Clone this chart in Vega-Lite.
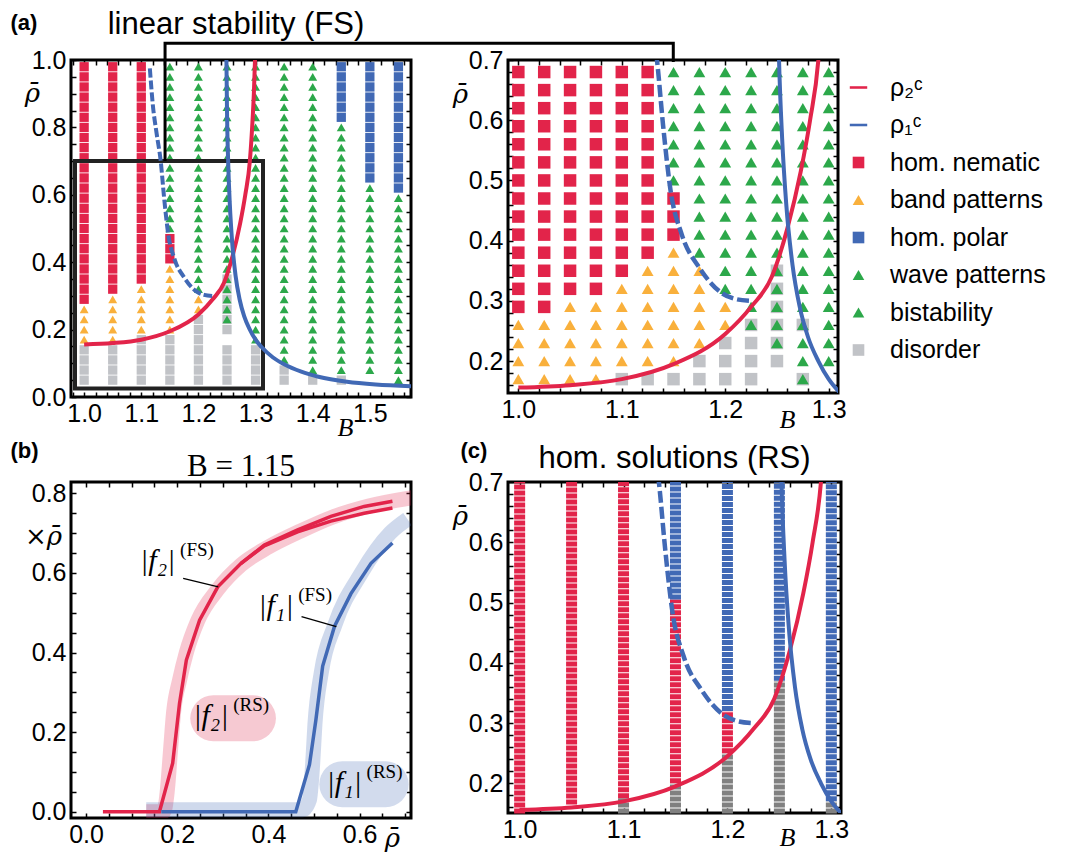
{
"$schema":"https://vega.github.io/schema/vega-lite/v6.json",
"background":"white",
"padding":{"left":8,"top":7,"right":0,"bottom":0},
"bounds":"flush",
"spacing":422,
"resolve":{"scale":{"color":"independent","shape":"independent"},"legend":{"color":"independent","shape":"independent"}},
"datasets":{
"gridA":[
{"b":1,"r":0.05,"s":"D"},{"b":1,"r":0.08,"s":"D"},{"b":1,"r":0.11,"s":"D"},{"b":1,"r":0.14,"s":"D"},{"b":1,"r":0.17,"s":"O"},{"b":1,"r":0.2,"s":"O"},{"b":1,"r":0.23,"s":"O"},{"b":1,"r":0.26,"s":"O"},{"b":1,"r":0.29,"s":"N"},{"b":1,"r":0.32,"s":"N"},{"b":1,"r":0.35,"s":"N"},{"b":1,"r":0.38,"s":"N"},{"b":1,"r":0.41,"s":"N"},{"b":1,"r":0.44,"s":"N"},{"b":1,"r":0.47,"s":"N"},{"b":1,"r":0.5,"s":"N"},{"b":1,"r":0.53,"s":"N"},{"b":1,"r":0.56,"s":"N"},{"b":1,"r":0.59,"s":"N"},{"b":1,"r":0.62,"s":"N"},{"b":1,"r":0.65,"s":"N"},{"b":1,"r":0.68,"s":"N"},{"b":1,"r":0.71,"s":"N"},{"b":1,"r":0.74,"s":"N"},{"b":1,"r":0.77,"s":"N"},{"b":1,"r":0.8,"s":"N"},{"b":1,"r":0.83,"s":"N"},{"b":1,"r":0.86,"s":"N"},{"b":1,"r":0.89,"s":"N"},{"b":1,"r":0.92,"s":"N"},{"b":1,"r":0.95,"s":"N"},{"b":1,"r":0.98,"s":"N"},
{"b":1.05,"r":0.05,"s":"D"},{"b":1.05,"r":0.08,"s":"D"},{"b":1.05,"r":0.11,"s":"D"},{"b":1.05,"r":0.14,"s":"D"},{"b":1.05,"r":0.17,"s":"O"},{"b":1.05,"r":0.2,"s":"O"},{"b":1.05,"r":0.23,"s":"O"},{"b":1.05,"r":0.26,"s":"O"},{"b":1.05,"r":0.29,"s":"O"},{"b":1.05,"r":0.32,"s":"N"},{"b":1.05,"r":0.35,"s":"N"},{"b":1.05,"r":0.38,"s":"N"},{"b":1.05,"r":0.41,"s":"N"},{"b":1.05,"r":0.44,"s":"N"},{"b":1.05,"r":0.47,"s":"N"},{"b":1.05,"r":0.5,"s":"N"},{"b":1.05,"r":0.53,"s":"N"},{"b":1.05,"r":0.56,"s":"N"},{"b":1.05,"r":0.59,"s":"N"},{"b":1.05,"r":0.62,"s":"N"},{"b":1.05,"r":0.65,"s":"N"},{"b":1.05,"r":0.68,"s":"N"},{"b":1.05,"r":0.71,"s":"N"},{"b":1.05,"r":0.74,"s":"N"},{"b":1.05,"r":0.77,"s":"N"},{"b":1.05,"r":0.8,"s":"N"},{"b":1.05,"r":0.83,"s":"N"},{"b":1.05,"r":0.86,"s":"N"},{"b":1.05,"r":0.89,"s":"N"},{"b":1.05,"r":0.92,"s":"N"},{"b":1.05,"r":0.95,"s":"N"},{"b":1.05,"r":0.98,"s":"N"},
{"b":1.1,"r":0.05,"s":"D"},{"b":1.1,"r":0.08,"s":"D"},{"b":1.1,"r":0.11,"s":"D"},{"b":1.1,"r":0.14,"s":"D"},{"b":1.1,"r":0.17,"s":"D"},{"b":1.1,"r":0.2,"s":"O"},{"b":1.1,"r":0.23,"s":"O"},{"b":1.1,"r":0.26,"s":"O"},{"b":1.1,"r":0.29,"s":"O"},{"b":1.1,"r":0.32,"s":"O"},{"b":1.1,"r":0.35,"s":"N"},{"b":1.1,"r":0.38,"s":"N"},{"b":1.1,"r":0.41,"s":"N"},{"b":1.1,"r":0.44,"s":"N"},{"b":1.1,"r":0.47,"s":"N"},{"b":1.1,"r":0.5,"s":"N"},{"b":1.1,"r":0.53,"s":"N"},{"b":1.1,"r":0.56,"s":"N"},{"b":1.1,"r":0.59,"s":"N"},{"b":1.1,"r":0.62,"s":"N"},{"b":1.1,"r":0.65,"s":"N"},{"b":1.1,"r":0.68,"s":"N"},{"b":1.1,"r":0.71,"s":"N"},{"b":1.1,"r":0.74,"s":"N"},{"b":1.1,"r":0.77,"s":"N"},{"b":1.1,"r":0.8,"s":"N"},{"b":1.1,"r":0.83,"s":"N"},{"b":1.1,"r":0.86,"s":"N"},{"b":1.1,"r":0.89,"s":"N"},{"b":1.1,"r":0.92,"s":"N"},{"b":1.1,"r":0.95,"s":"N"},{"b":1.1,"r":0.98,"s":"N"},
{"b":1.15,"r":0.05,"s":"D"},{"b":1.15,"r":0.08,"s":"D"},{"b":1.15,"r":0.11,"s":"D"},{"b":1.15,"r":0.14,"s":"D"},{"b":1.15,"r":0.17,"s":"D"},{"b":1.15,"r":0.2,"s":"O"},{"b":1.15,"r":0.23,"s":"O"},{"b":1.15,"r":0.26,"s":"O"},{"b":1.15,"r":0.29,"s":"O"},{"b":1.15,"r":0.32,"s":"O"},{"b":1.15,"r":0.35,"s":"O"},{"b":1.15,"r":0.38,"s":"O"},{"b":1.15,"r":0.41,"s":"N"},{"b":1.15,"r":0.44,"s":"N"},{"b":1.15,"r":0.47,"s":"N"},{"b":1.15,"r":0.5,"s":"W"},{"b":1.15,"r":0.53,"s":"W"},{"b":1.15,"r":0.56,"s":"W"},{"b":1.15,"r":0.59,"s":"W"},{"b":1.15,"r":0.62,"s":"W"},{"b":1.15,"r":0.65,"s":"W"},{"b":1.15,"r":0.68,"s":"W"},{"b":1.15,"r":0.71,"s":"W"},{"b":1.15,"r":0.74,"s":"W"},{"b":1.15,"r":0.77,"s":"W"},{"b":1.15,"r":0.8,"s":"W"},{"b":1.15,"r":0.83,"s":"W"},{"b":1.15,"r":0.86,"s":"W"},{"b":1.15,"r":0.89,"s":"W"},{"b":1.15,"r":0.92,"s":"W"},{"b":1.15,"r":0.95,"s":"W"},{"b":1.15,"r":0.98,"s":"W"},
{"b":1.2,"r":0.05,"s":"D"},{"b":1.2,"r":0.08,"s":"D"},{"b":1.2,"r":0.11,"s":"D"},{"b":1.2,"r":0.14,"s":"D"},{"b":1.2,"r":0.17,"s":"D"},{"b":1.2,"r":0.2,"s":"D"},{"b":1.2,"r":0.23,"s":"D"},{"b":1.2,"r":0.26,"s":"O"},{"b":1.2,"r":0.29,"s":"O"},{"b":1.2,"r":0.32,"s":"W"},{"b":1.2,"r":0.35,"s":"W"},{"b":1.2,"r":0.38,"s":"W"},{"b":1.2,"r":0.41,"s":"W"},{"b":1.2,"r":0.44,"s":"W"},{"b":1.2,"r":0.47,"s":"W"},{"b":1.2,"r":0.5,"s":"W"},{"b":1.2,"r":0.53,"s":"W"},{"b":1.2,"r":0.56,"s":"W"},{"b":1.2,"r":0.59,"s":"W"},{"b":1.2,"r":0.62,"s":"W"},{"b":1.2,"r":0.65,"s":"W"},{"b":1.2,"r":0.68,"s":"W"},{"b":1.2,"r":0.71,"s":"W"},{"b":1.2,"r":0.74,"s":"W"},{"b":1.2,"r":0.77,"s":"W"},{"b":1.2,"r":0.8,"s":"W"},{"b":1.2,"r":0.83,"s":"W"},{"b":1.2,"r":0.86,"s":"W"},{"b":1.2,"r":0.89,"s":"W"},{"b":1.2,"r":0.92,"s":"W"},{"b":1.2,"r":0.95,"s":"W"},{"b":1.2,"r":0.98,"s":"W"},
{"b":1.25,"r":0.05,"s":"D"},{"b":1.25,"r":0.08,"s":"D"},{"b":1.25,"r":0.11,"s":"D"},{"b":1.25,"r":0.14,"s":"D"},{"b":1.25,"r":0.2,"s":"D"},{"b":1.25,"r":0.23,"s":"X"},{"b":1.25,"r":0.26,"s":"X"},{"b":1.25,"r":0.29,"s":"X"},{"b":1.25,"r":0.32,"s":"X"},{"b":1.25,"r":0.35,"s":"X"},{"b":1.25,"r":0.38,"s":"W"},{"b":1.25,"r":0.41,"s":"W"},{"b":1.25,"r":0.44,"s":"W"},{"b":1.25,"r":0.47,"s":"W"},{"b":1.25,"r":0.5,"s":"W"},{"b":1.25,"r":0.53,"s":"W"},{"b":1.25,"r":0.56,"s":"W"},{"b":1.25,"r":0.59,"s":"W"},{"b":1.25,"r":0.62,"s":"W"},{"b":1.25,"r":0.65,"s":"W"},{"b":1.25,"r":0.68,"s":"W"},{"b":1.25,"r":0.71,"s":"W"},{"b":1.25,"r":0.74,"s":"W"},{"b":1.25,"r":0.77,"s":"W"},{"b":1.25,"r":0.8,"s":"W"},{"b":1.25,"r":0.83,"s":"W"},{"b":1.25,"r":0.86,"s":"W"},{"b":1.25,"r":0.89,"s":"W"},{"b":1.25,"r":0.92,"s":"W"},{"b":1.25,"r":0.95,"s":"W"},{"b":1.25,"r":0.98,"s":"W"},
{"b":1.3,"r":0.05,"s":"D"},{"b":1.3,"r":0.08,"s":"D"},{"b":1.3,"r":0.11,"s":"D"},{"b":1.3,"r":0.14,"s":"D"},{"b":1.3,"r":0.17,"s":"W"},{"b":1.3,"r":0.2,"s":"W"},{"b":1.3,"r":0.23,"s":"W"},{"b":1.3,"r":0.26,"s":"W"},{"b":1.3,"r":0.29,"s":"W"},{"b":1.3,"r":0.32,"s":"W"},{"b":1.3,"r":0.35,"s":"W"},{"b":1.3,"r":0.38,"s":"W"},{"b":1.3,"r":0.41,"s":"W"},{"b":1.3,"r":0.44,"s":"W"},{"b":1.3,"r":0.47,"s":"W"},{"b":1.3,"r":0.5,"s":"W"},{"b":1.3,"r":0.53,"s":"W"},{"b":1.3,"r":0.56,"s":"W"},{"b":1.3,"r":0.59,"s":"W"},{"b":1.3,"r":0.62,"s":"W"},{"b":1.3,"r":0.65,"s":"W"},{"b":1.3,"r":0.68,"s":"W"},{"b":1.3,"r":0.71,"s":"W"},{"b":1.3,"r":0.74,"s":"W"},{"b":1.3,"r":0.77,"s":"W"},{"b":1.3,"r":0.8,"s":"W"},{"b":1.3,"r":0.83,"s":"W"},{"b":1.3,"r":0.86,"s":"W"},{"b":1.3,"r":0.89,"s":"W"},{"b":1.3,"r":0.92,"s":"W"},{"b":1.3,"r":0.95,"s":"W"},{"b":1.3,"r":0.98,"s":"W"},
{"b":1.35,"r":0.05,"s":"D"},{"b":1.35,"r":0.08,"s":"D"},{"b":1.35,"r":0.11,"s":"W"},{"b":1.35,"r":0.14,"s":"W"},{"b":1.35,"r":0.17,"s":"W"},{"b":1.35,"r":0.2,"s":"W"},{"b":1.35,"r":0.23,"s":"W"},{"b":1.35,"r":0.26,"s":"W"},{"b":1.35,"r":0.29,"s":"W"},{"b":1.35,"r":0.32,"s":"W"},{"b":1.35,"r":0.35,"s":"W"},{"b":1.35,"r":0.38,"s":"W"},{"b":1.35,"r":0.41,"s":"W"},{"b":1.35,"r":0.44,"s":"W"},{"b":1.35,"r":0.47,"s":"W"},{"b":1.35,"r":0.5,"s":"W"},{"b":1.35,"r":0.53,"s":"W"},{"b":1.35,"r":0.56,"s":"W"},{"b":1.35,"r":0.59,"s":"W"},{"b":1.35,"r":0.62,"s":"W"},{"b":1.35,"r":0.65,"s":"W"},{"b":1.35,"r":0.68,"s":"W"},{"b":1.35,"r":0.71,"s":"W"},{"b":1.35,"r":0.74,"s":"W"},{"b":1.35,"r":0.77,"s":"W"},{"b":1.35,"r":0.8,"s":"W"},{"b":1.35,"r":0.83,"s":"W"},{"b":1.35,"r":0.86,"s":"W"},{"b":1.35,"r":0.89,"s":"W"},{"b":1.35,"r":0.92,"s":"W"},{"b":1.35,"r":0.95,"s":"W"},{"b":1.35,"r":0.98,"s":"W"},
{"b":1.4,"r":0.05,"s":"D"},{"b":1.4,"r":0.08,"s":"W"},{"b":1.4,"r":0.11,"s":"W"},{"b":1.4,"r":0.14,"s":"W"},{"b":1.4,"r":0.17,"s":"W"},{"b":1.4,"r":0.2,"s":"W"},{"b":1.4,"r":0.23,"s":"W"},{"b":1.4,"r":0.26,"s":"W"},{"b":1.4,"r":0.29,"s":"W"},{"b":1.4,"r":0.32,"s":"W"},{"b":1.4,"r":0.35,"s":"W"},{"b":1.4,"r":0.38,"s":"W"},{"b":1.4,"r":0.41,"s":"W"},{"b":1.4,"r":0.44,"s":"W"},{"b":1.4,"r":0.47,"s":"W"},{"b":1.4,"r":0.5,"s":"W"},{"b":1.4,"r":0.53,"s":"W"},{"b":1.4,"r":0.56,"s":"W"},{"b":1.4,"r":0.59,"s":"W"},{"b":1.4,"r":0.62,"s":"W"},{"b":1.4,"r":0.65,"s":"W"},{"b":1.4,"r":0.68,"s":"W"},{"b":1.4,"r":0.71,"s":"W"},{"b":1.4,"r":0.74,"s":"W"},{"b":1.4,"r":0.77,"s":"W"},{"b":1.4,"r":0.8,"s":"W"},{"b":1.4,"r":0.83,"s":"W"},{"b":1.4,"r":0.86,"s":"W"},{"b":1.4,"r":0.89,"s":"W"},{"b":1.4,"r":0.92,"s":"W"},{"b":1.4,"r":0.95,"s":"W"},{"b":1.4,"r":0.98,"s":"W"},
{"b":1.45,"r":0.05,"s":"D"},{"b":1.45,"r":0.08,"s":"W"},{"b":1.45,"r":0.11,"s":"W"},{"b":1.45,"r":0.14,"s":"W"},{"b":1.45,"r":0.17,"s":"W"},{"b":1.45,"r":0.2,"s":"W"},{"b":1.45,"r":0.23,"s":"W"},{"b":1.45,"r":0.26,"s":"W"},{"b":1.45,"r":0.29,"s":"W"},{"b":1.45,"r":0.32,"s":"W"},{"b":1.45,"r":0.35,"s":"W"},{"b":1.45,"r":0.38,"s":"W"},{"b":1.45,"r":0.41,"s":"W"},{"b":1.45,"r":0.44,"s":"W"},{"b":1.45,"r":0.47,"s":"W"},{"b":1.45,"r":0.5,"s":"W"},{"b":1.45,"r":0.53,"s":"W"},{"b":1.45,"r":0.56,"s":"W"},{"b":1.45,"r":0.59,"s":"W"},{"b":1.45,"r":0.62,"s":"W"},{"b":1.45,"r":0.65,"s":"W"},{"b":1.45,"r":0.68,"s":"W"},{"b":1.45,"r":0.71,"s":"W"},{"b":1.45,"r":0.74,"s":"W"},{"b":1.45,"r":0.77,"s":"W"},{"b":1.45,"r":0.8,"s":"W"},{"b":1.45,"r":0.83,"s":"P"},{"b":1.45,"r":0.86,"s":"P"},{"b":1.45,"r":0.89,"s":"P"},{"b":1.45,"r":0.92,"s":"P"},{"b":1.45,"r":0.95,"s":"P"},{"b":1.45,"r":0.98,"s":"P"},
{"b":1.5,"r":0.08,"s":"W"},{"b":1.5,"r":0.11,"s":"W"},{"b":1.5,"r":0.14,"s":"W"},{"b":1.5,"r":0.17,"s":"W"},{"b":1.5,"r":0.2,"s":"W"},{"b":1.5,"r":0.23,"s":"W"},{"b":1.5,"r":0.26,"s":"W"},{"b":1.5,"r":0.29,"s":"W"},{"b":1.5,"r":0.32,"s":"W"},{"b":1.5,"r":0.35,"s":"W"},{"b":1.5,"r":0.38,"s":"W"},{"b":1.5,"r":0.41,"s":"W"},{"b":1.5,"r":0.44,"s":"W"},{"b":1.5,"r":0.47,"s":"W"},{"b":1.5,"r":0.5,"s":"W"},{"b":1.5,"r":0.53,"s":"W"},{"b":1.5,"r":0.56,"s":"W"},{"b":1.5,"r":0.59,"s":"W"},{"b":1.5,"r":0.62,"s":"W"},{"b":1.5,"r":0.65,"s":"P"},{"b":1.5,"r":0.68,"s":"P"},{"b":1.5,"r":0.71,"s":"P"},{"b":1.5,"r":0.74,"s":"P"},{"b":1.5,"r":0.77,"s":"P"},{"b":1.5,"r":0.8,"s":"P"},{"b":1.5,"r":0.83,"s":"P"},{"b":1.5,"r":0.86,"s":"P"},{"b":1.5,"r":0.89,"s":"P"},{"b":1.5,"r":0.92,"s":"P"},{"b":1.5,"r":0.95,"s":"P"},{"b":1.5,"r":0.98,"s":"P"},
{"b":1.55,"r":0.05,"s":"W"},{"b":1.55,"r":0.08,"s":"W"},{"b":1.55,"r":0.11,"s":"W"},{"b":1.55,"r":0.14,"s":"W"},{"b":1.55,"r":0.17,"s":"W"},{"b":1.55,"r":0.2,"s":"W"},{"b":1.55,"r":0.23,"s":"W"},{"b":1.55,"r":0.26,"s":"W"},{"b":1.55,"r":0.29,"s":"W"},{"b":1.55,"r":0.32,"s":"W"},{"b":1.55,"r":0.35,"s":"W"},{"b":1.55,"r":0.38,"s":"W"},{"b":1.55,"r":0.41,"s":"W"},{"b":1.55,"r":0.44,"s":"W"},{"b":1.55,"r":0.47,"s":"W"},{"b":1.55,"r":0.5,"s":"W"},{"b":1.55,"r":0.53,"s":"W"},{"b":1.55,"r":0.56,"s":"W"},{"b":1.55,"r":0.59,"s":"W"},{"b":1.55,"r":0.62,"s":"P"},{"b":1.55,"r":0.65,"s":"P"},{"b":1.55,"r":0.68,"s":"P"},{"b":1.55,"r":0.71,"s":"P"},{"b":1.55,"r":0.74,"s":"P"},{"b":1.55,"r":0.77,"s":"P"},{"b":1.55,"r":0.8,"s":"P"},{"b":1.55,"r":0.83,"s":"P"},{"b":1.55,"r":0.86,"s":"P"},{"b":1.55,"r":0.89,"s":"P"},{"b":1.55,"r":0.92,"s":"P"},{"b":1.55,"r":0.95,"s":"P"},{"b":1.55,"r":0.98,"s":"P"}
],
"gridB":[
{"b":1,"r":0.17,"s":"O"},{"b":1,"r":0.2,"s":"O"},{"b":1,"r":0.23,"s":"O"},{"b":1,"r":0.26,"s":"O"},{"b":1,"r":0.29,"s":"N"},{"b":1,"r":0.32,"s":"N"},{"b":1,"r":0.35,"s":"N"},{"b":1,"r":0.38,"s":"N"},{"b":1,"r":0.41,"s":"N"},{"b":1,"r":0.44,"s":"N"},{"b":1,"r":0.47,"s":"N"},{"b":1,"r":0.5,"s":"N"},{"b":1,"r":0.53,"s":"N"},{"b":1,"r":0.56,"s":"N"},{"b":1,"r":0.59,"s":"N"},{"b":1,"r":0.62,"s":"N"},{"b":1,"r":0.65,"s":"N"},{"b":1,"r":0.68,"s":"N"},
{"b":1.025,"r":0.17,"s":"O"},{"b":1.025,"r":0.2,"s":"O"},{"b":1.025,"r":0.23,"s":"O"},{"b":1.025,"r":0.26,"s":"O"},{"b":1.025,"r":0.29,"s":"N"},{"b":1.025,"r":0.32,"s":"N"},{"b":1.025,"r":0.35,"s":"N"},{"b":1.025,"r":0.38,"s":"N"},{"b":1.025,"r":0.41,"s":"N"},{"b":1.025,"r":0.44,"s":"N"},{"b":1.025,"r":0.47,"s":"N"},{"b":1.025,"r":0.5,"s":"N"},{"b":1.025,"r":0.53,"s":"N"},{"b":1.025,"r":0.56,"s":"N"},{"b":1.025,"r":0.59,"s":"N"},{"b":1.025,"r":0.62,"s":"N"},{"b":1.025,"r":0.65,"s":"N"},{"b":1.025,"r":0.68,"s":"N"},
{"b":1.05,"r":0.17,"s":"O"},{"b":1.05,"r":0.2,"s":"O"},{"b":1.05,"r":0.23,"s":"O"},{"b":1.05,"r":0.26,"s":"O"},{"b":1.05,"r":0.29,"s":"O"},{"b":1.05,"r":0.32,"s":"N"},{"b":1.05,"r":0.35,"s":"N"},{"b":1.05,"r":0.38,"s":"N"},{"b":1.05,"r":0.41,"s":"N"},{"b":1.05,"r":0.44,"s":"N"},{"b":1.05,"r":0.47,"s":"N"},{"b":1.05,"r":0.5,"s":"N"},{"b":1.05,"r":0.53,"s":"N"},{"b":1.05,"r":0.56,"s":"N"},{"b":1.05,"r":0.59,"s":"N"},{"b":1.05,"r":0.62,"s":"N"},{"b":1.05,"r":0.65,"s":"N"},{"b":1.05,"r":0.68,"s":"N"},
{"b":1.075,"r":0.17,"s":"O"},{"b":1.075,"r":0.2,"s":"O"},{"b":1.075,"r":0.23,"s":"O"},{"b":1.075,"r":0.26,"s":"O"},{"b":1.075,"r":0.29,"s":"O"},{"b":1.075,"r":0.32,"s":"N"},{"b":1.075,"r":0.35,"s":"N"},{"b":1.075,"r":0.38,"s":"N"},{"b":1.075,"r":0.41,"s":"N"},{"b":1.075,"r":0.44,"s":"N"},{"b":1.075,"r":0.47,"s":"N"},{"b":1.075,"r":0.5,"s":"N"},{"b":1.075,"r":0.53,"s":"N"},{"b":1.075,"r":0.56,"s":"N"},{"b":1.075,"r":0.59,"s":"N"},{"b":1.075,"r":0.62,"s":"N"},{"b":1.075,"r":0.65,"s":"N"},{"b":1.075,"r":0.68,"s":"N"},
{"b":1.1,"r":0.17,"s":"D"},{"b":1.1,"r":0.2,"s":"O"},{"b":1.1,"r":0.23,"s":"O"},{"b":1.1,"r":0.26,"s":"O"},{"b":1.1,"r":0.29,"s":"O"},{"b":1.1,"r":0.32,"s":"O"},{"b":1.1,"r":0.35,"s":"N"},{"b":1.1,"r":0.38,"s":"N"},{"b":1.1,"r":0.41,"s":"N"},{"b":1.1,"r":0.44,"s":"N"},{"b":1.1,"r":0.47,"s":"N"},{"b":1.1,"r":0.5,"s":"N"},{"b":1.1,"r":0.53,"s":"N"},{"b":1.1,"r":0.56,"s":"N"},{"b":1.1,"r":0.59,"s":"N"},{"b":1.1,"r":0.62,"s":"N"},{"b":1.1,"r":0.65,"s":"N"},{"b":1.1,"r":0.68,"s":"N"},
{"b":1.125,"r":0.17,"s":"D"},{"b":1.125,"r":0.2,"s":"O"},{"b":1.125,"r":0.23,"s":"O"},{"b":1.125,"r":0.26,"s":"O"},{"b":1.125,"r":0.29,"s":"O"},{"b":1.125,"r":0.32,"s":"O"},{"b":1.125,"r":0.35,"s":"O"},{"b":1.125,"r":0.38,"s":"N"},{"b":1.125,"r":0.41,"s":"N"},{"b":1.125,"r":0.44,"s":"N"},{"b":1.125,"r":0.47,"s":"N"},{"b":1.125,"r":0.5,"s":"N"},{"b":1.125,"r":0.53,"s":"N"},{"b":1.125,"r":0.56,"s":"N"},{"b":1.125,"r":0.59,"s":"N"},{"b":1.125,"r":0.62,"s":"N"},{"b":1.125,"r":0.65,"s":"N"},{"b":1.125,"r":0.68,"s":"N"},
{"b":1.15,"r":0.17,"s":"D"},{"b":1.15,"r":0.2,"s":"O"},{"b":1.15,"r":0.23,"s":"O"},{"b":1.15,"r":0.26,"s":"O"},{"b":1.15,"r":0.29,"s":"O"},{"b":1.15,"r":0.32,"s":"O"},{"b":1.15,"r":0.35,"s":"O"},{"b":1.15,"r":0.38,"s":"O"},{"b":1.15,"r":0.41,"s":"N"},{"b":1.15,"r":0.44,"s":"N"},{"b":1.15,"r":0.47,"s":"N"},{"b":1.15,"r":0.5,"s":"W"},{"b":1.15,"r":0.53,"s":"W"},{"b":1.15,"r":0.56,"s":"W"},{"b":1.15,"r":0.59,"s":"W"},{"b":1.15,"r":0.62,"s":"W"},{"b":1.15,"r":0.65,"s":"W"},{"b":1.15,"r":0.68,"s":"W"},
{"b":1.175,"r":0.17,"s":"D"},{"b":1.175,"r":0.2,"s":"D"},{"b":1.175,"r":0.23,"s":"O"},{"b":1.175,"r":0.26,"s":"O"},{"b":1.175,"r":0.29,"s":"O"},{"b":1.175,"r":0.32,"s":"O"},{"b":1.175,"r":0.35,"s":"O"},{"b":1.175,"r":0.38,"s":"W"},{"b":1.175,"r":0.41,"s":"W"},{"b":1.175,"r":0.44,"s":"W"},{"b":1.175,"r":0.47,"s":"W"},{"b":1.175,"r":0.5,"s":"W"},{"b":1.175,"r":0.53,"s":"W"},{"b":1.175,"r":0.56,"s":"W"},{"b":1.175,"r":0.59,"s":"W"},{"b":1.175,"r":0.62,"s":"W"},{"b":1.175,"r":0.65,"s":"W"},{"b":1.175,"r":0.68,"s":"W"},
{"b":1.2,"r":0.17,"s":"D"},{"b":1.2,"r":0.2,"s":"D"},{"b":1.2,"r":0.23,"s":"D"},{"b":1.2,"r":0.26,"s":"O"},{"b":1.2,"r":0.29,"s":"O"},{"b":1.2,"r":0.32,"s":"W"},{"b":1.2,"r":0.35,"s":"W"},{"b":1.2,"r":0.38,"s":"W"},{"b":1.2,"r":0.41,"s":"W"},{"b":1.2,"r":0.44,"s":"W"},{"b":1.2,"r":0.47,"s":"W"},{"b":1.2,"r":0.5,"s":"W"},{"b":1.2,"r":0.53,"s":"W"},{"b":1.2,"r":0.56,"s":"W"},{"b":1.2,"r":0.59,"s":"W"},{"b":1.2,"r":0.62,"s":"W"},{"b":1.2,"r":0.65,"s":"W"},{"b":1.2,"r":0.68,"s":"W"},
{"b":1.225,"r":0.17,"s":"D"},{"b":1.225,"r":0.2,"s":"D"},{"b":1.225,"r":0.23,"s":"D"},{"b":1.225,"r":0.26,"s":"X"},{"b":1.225,"r":0.29,"s":"W"},{"b":1.225,"r":0.32,"s":"W"},{"b":1.225,"r":0.35,"s":"W"},{"b":1.225,"r":0.38,"s":"W"},{"b":1.225,"r":0.41,"s":"W"},{"b":1.225,"r":0.44,"s":"W"},{"b":1.225,"r":0.47,"s":"W"},{"b":1.225,"r":0.5,"s":"W"},{"b":1.225,"r":0.53,"s":"W"},{"b":1.225,"r":0.56,"s":"W"},{"b":1.225,"r":0.59,"s":"W"},{"b":1.225,"r":0.62,"s":"W"},{"b":1.225,"r":0.65,"s":"W"},{"b":1.225,"r":0.68,"s":"W"},
{"b":1.25,"r":0.2,"s":"D"},{"b":1.25,"r":0.23,"s":"X"},{"b":1.25,"r":0.26,"s":"X"},{"b":1.25,"r":0.29,"s":"X"},{"b":1.25,"r":0.32,"s":"X"},{"b":1.25,"r":0.35,"s":"X"},{"b":1.25,"r":0.38,"s":"W"},{"b":1.25,"r":0.41,"s":"W"},{"b":1.25,"r":0.44,"s":"W"},{"b":1.25,"r":0.47,"s":"W"},{"b":1.25,"r":0.5,"s":"W"},{"b":1.25,"r":0.53,"s":"W"},{"b":1.25,"r":0.56,"s":"W"},{"b":1.25,"r":0.59,"s":"W"},{"b":1.25,"r":0.62,"s":"W"},{"b":1.25,"r":0.65,"s":"W"},{"b":1.25,"r":0.68,"s":"W"},
{"b":1.275,"r":0.17,"s":"X"},{"b":1.275,"r":0.2,"s":"W"},{"b":1.275,"r":0.23,"s":"W"},{"b":1.275,"r":0.26,"s":"X"},{"b":1.275,"r":0.29,"s":"W"},{"b":1.275,"r":0.32,"s":"W"},{"b":1.275,"r":0.35,"s":"W"},{"b":1.275,"r":0.38,"s":"W"},{"b":1.275,"r":0.41,"s":"W"},{"b":1.275,"r":0.44,"s":"W"},{"b":1.275,"r":0.47,"s":"W"},{"b":1.275,"r":0.5,"s":"W"},{"b":1.275,"r":0.53,"s":"W"},{"b":1.275,"r":0.56,"s":"W"},{"b":1.275,"r":0.59,"s":"W"},{"b":1.275,"r":0.62,"s":"W"},{"b":1.275,"r":0.65,"s":"W"},{"b":1.275,"r":0.68,"s":"W"},
{"b":1.3,"r":0.2,"s":"W"},{"b":1.3,"r":0.23,"s":"W"},{"b":1.3,"r":0.26,"s":"W"},{"b":1.3,"r":0.29,"s":"W"},{"b":1.3,"r":0.32,"s":"W"},{"b":1.3,"r":0.35,"s":"W"},{"b":1.3,"r":0.38,"s":"W"},{"b":1.3,"r":0.41,"s":"W"},{"b":1.3,"r":0.44,"s":"W"},{"b":1.3,"r":0.47,"s":"W"},{"b":1.3,"r":0.5,"s":"W"},{"b":1.3,"r":0.53,"s":"W"},{"b":1.3,"r":0.56,"s":"W"},{"b":1.3,"r":0.59,"s":"W"},{"b":1.3,"r":0.62,"s":"W"},{"b":1.3,"r":0.65,"s":"W"},{"b":1.3,"r":0.68,"s":"W"}
],
"colsC":[
{"b":1,"r":0.15,"r2":0.7,"s":"N"},
{"b":1.05,"r":0.165,"r2":0.7,"s":"N"},
{"b":1.1,"r":0.15,"r2":0.175,"s":"G"},{"b":1.1,"r":0.175,"r2":0.7,"s":"N"},
{"b":1.15,"r":0.15,"r2":0.2,"s":"G"},{"b":1.15,"r":0.2,"r2":0.505,"s":"N"},{"b":1.15,"r":0.505,"r2":0.7,"s":"P"},
{"b":1.2,"r":0.15,"r2":0.25,"s":"G"},{"b":1.2,"r":0.25,"r2":0.32,"s":"N"},{"b":1.2,"r":0.32,"r2":0.7,"s":"P"},
{"b":1.25,"r":0.15,"r2":0.37,"s":"G"},{"b":1.25,"r":0.37,"r2":0.7,"s":"P"},
{"b":1.3,"r":0.15,"r2":0.17,"s":"G"},{"b":1.3,"r":0.17,"r2":0.7,"s":"P"}
],
"rho2":[{"b":1,"r":0.156},{"b":1.05,"r":0.16},{"b":1.1,"r":0.17},{"b":1.15,"r":0.195},{"b":1.2,"r":0.245},{"b":1.225,"r":0.29},{"b":1.245,"r":0.34},{"b":1.26,"r":0.42},{"b":1.273,"r":0.515},{"b":1.282,"r":0.6},{"b":1.29,"r":0.7},{"b":1.294,"r":0.8},{"b":1.297,"r":0.9},{"b":1.299,"r":1.0}],
"rho1":[{"b":1.249,"r":1.0},{"b":1.25,"r":0.85},{"b":1.252,"r":0.7},{"b":1.255,"r":0.57},{"b":1.259,"r":0.46},{"b":1.265,"r":0.36},{"b":1.272,"r":0.29},{"b":1.28,"r":0.24},{"b":1.29,"r":0.2},{"b":1.3,"r":0.17},{"b":1.31,"r":0.149},{"b":1.33,"r":0.118},{"b":1.35,"r":0.097},{"b":1.38,"r":0.075},{"b":1.41,"r":0.06},{"b":1.46,"r":0.045},{"b":1.51,"r":0.037},{"b":1.572,"r":0.032}],
"rho1u":[{"b":1.115,"r":0.975},{"b":1.12,"r":0.87},{"b":1.127,"r":0.78},{"b":1.134,"r":0.7},{"b":1.14,"r":0.59},{"b":1.147,"r":0.485},{"b":1.158,"r":0.41},{"b":1.175,"r":0.355},{"b":1.195,"r":0.315},{"b":1.21,"r":0.303},{"b":1.224,"r":0.3}],
"boxA":[{"b":0.984,"b2":1.313,"r":0.025,"r2":0.7}],
"conn":[{"b":1.1416,"r":0.7,"o":1},{"b":1.1416,"r":1.05,"o":2},{"b":2.031,"r":1.05,"o":3},{"b":2.031,"r":0.994,"o":4}],
"curvesB":[
{"x":0.132,"y":0,"g":"bR"},{"x":0.17,"y":0,"g":"bR"},{"x":0.178,"y":0.05,"g":"bR"},{"x":0.185,"y":0.15,"g":"bR"},{"x":0.192,"y":0.25,"g":"bR"},{"x":0.205,"y":0.33,"g":"bR"},{"x":0.22,"y":0.4,"g":"bR"},{"x":0.245,"y":0.48,"g":"bR"},{"x":0.29,"y":0.56,"g":"bR"},{"x":0.34,"y":0.62,"g":"bR"},{"x":0.4,"y":0.665,"g":"bR"},{"x":0.47,"y":0.705,"g":"bR"},{"x":0.54,"y":0.74,"g":"bR"},{"x":0.62,"y":0.768,"g":"bR"},{"x":0.72,"y":0.79,"g":"bR"},
{"x":0.132,"y":0.005,"g":"bB"},{"x":0.475,"y":0.005,"g":"bB"},{"x":0.49,"y":0.03,"g":"bB"},{"x":0.497,"y":0.12,"g":"bB"},{"x":0.502,"y":0.22,"g":"bB"},{"x":0.516,"y":0.35,"g":"bB"},{"x":0.546,"y":0.47,"g":"bB"},{"x":0.604,"y":0.6,"g":"bB"},{"x":0.667,"y":0.7,"g":"bB"},{"x":0.705,"y":0.735,"g":"bB"},
{"x":0.037,"y":0,"g":"fR1"},{"x":0.161,"y":0,"g":"fR1"},{"x":0.19,"y":0.122,"g":"fR1"},{"x":0.205,"y":0.272,"g":"fR1"},{"x":0.22,"y":0.381,"g":"fR1"},{"x":0.249,"y":0.481,"g":"fR1"},{"x":0.289,"y":0.565,"g":"fR1"},{"x":0.34,"y":0.624,"g":"fR1"},{"x":0.391,"y":0.67,"g":"fR1"},{"x":0.464,"y":0.708,"g":"fR1"},{"x":0.537,"y":0.742,"g":"fR1"},{"x":0.61,"y":0.767,"g":"fR1"},{"x":0.672,"y":0.78,"g":"fR1"},
{"x":0.34,"y":0.624,"g":"fR2"},{"x":0.391,"y":0.668,"g":"fR2"},{"x":0.464,"y":0.703,"g":"fR2"},{"x":0.537,"y":0.73,"g":"fR2"},{"x":0.61,"y":0.75,"g":"fR2"},{"x":0.672,"y":0.763,"g":"fR2"},
{"x":0.165,"y":0,"g":"fB"},{"x":0.46,"y":0,"g":"fB"},{"x":0.49,"y":0.118,"g":"fB"},{"x":0.504,"y":0.23,"g":"fB"},{"x":0.519,"y":0.366,"g":"fB"},{"x":0.545,"y":0.466,"g":"fB"},{"x":0.581,"y":0.548,"g":"fB"},{"x":0.625,"y":0.624,"g":"fB"},{"x":0.672,"y":0.675,"g":"fB"}
],
"boxesB":[{"x":0.279,"x2":0.366,"y":0.2347,"g":"R"},{"x":0.562,"x2":0.657,"y":0.069,"g":"B"}],
"callB":[{"x":0.213,"y":0.586,"x2":0.29,"y2":0.565},{"x":0.4726,"y":0.49,"x2":0.549,"y2":0.465}],
"labB":[{"x":0.1185,"y":0.607,"m":"|f₂|","u":"(FS)"},{"x":0.3775,"y":0.494,"m":"|f₁|","u":"(FS)"},{"x":0.235,"y":0.218,"m":"|f₂|","u":"(RS)"},{"x":0.5275,"y":0.05,"m":"|f₁|","u":"(RS)"}]
},
"vconcat":[
{"hconcat":[
{"width":340,"height":337,
"title":{"text":"linear stability (FS)","anchor":"middle","frame":"group","offset":-30,"dx":-5},
"encoding":{
"x":{"field":"b","type":"quantitative","scale":{"domain":[0.977,1.572],"nice":false,"zero":false},"axis":null},
"y":{"field":"r","type":"quantitative","scale":{"domain":[0,1],"nice":false,"zero":false},"axis":null}},
"layer":[
{"data":{"name":"gridA"},"transform":[{"filter":"datum.s=='N'||datum.s=='P'||datum.s=='D'"}],
"mark":{"type":"point","filled":true,"size":86,"opacity":1},
"encoding":{
"x":{"field":"b","type":"quantitative","scale":{"domain":[0.977,1.572],"nice":false,"zero":false},"axis":{"orient":"bottom","offset":-5,"values":[0.98,1,1.02,1.04,1.06,1.08,1.1,1.12,1.14,1.16,1.18,1.2,1.22,1.24,1.26,1.28,1.3,1.32,1.34,1.36,1.38,1.4,1.42,1.44,1.46,1.48,1.5,1.52,1.54,1.56],"labelExpr":"abs(datum.value*10-round(datum.value*10))<0.001 ? format(datum.value,'.1f') : ''","tickSize":5,"labelPadding":4,"title":"B","titleX":274,"titleY":35,"titleAngle":0,"titleAlign":"center","titleBaseline":"middle"}},
"y":{"field":"r","type":"quantitative","scale":{"domain":[0,1],"nice":false,"zero":false},"axis":{"orient":"left","offset":-5,"values":[0,0.05,0.1,0.15,0.2,0.25,0.3,0.35,0.4,0.45,0.5,0.55,0.6,0.65,0.7,0.75,0.8,0.85,0.9,0.95,1],"labelExpr":"abs(datum.value*5-round(datum.value*5))<0.001 ? format(datum.value,'.1f') : ''","tickSize":5,"labelPadding":5,"title":"ρ̄","titleFont":"DejaVu Serif","titleX":-44,"titleY":33,"titleAngle":0,"titleAlign":"center","titleBaseline":"middle"}},
"color":{"field":"s","type":"nominal","scale":{"domain":["r2","r1","N","O","P","W","X","D"],"range":["#e2244a","#4169b5","#e2244a","#f9b03c","#4169b5","#2ca84a","#2ca84a","#c1c3c7"]},"legend":null},
"shape":{"field":"s","type":"nominal","scale":{"domain":["r2","r1","N","O","P","W","X","D"],"range":["M-1.5,-0.22H1.5V0.22H-1.5Z","M-1.5,-0.22H1.5V0.22H-1.5Z","square","triangle-up","square","triangle-up","triangle-up","square"]},"legend":null}}},
{"data":{"name":"gridA"},"transform":[{"filter":"datum.s=='X'"}],"mark":{"type":"point","filled":true,"size":86,"shape":"square","color":"#c1c3c7","opacity":1},"encoding":{}},
{"data":{"name":"gridA"},"transform":[{"filter":"datum.s=='O'||datum.s=='W'||datum.s=='X'"}],
"mark":{"type":"point","filled":true,"size":80,"opacity":1},
"encoding":{
"x":{"field":"b","type":"quantitative","scale":{"domain":[0.977,1.572],"nice":false,"zero":false},"axis":{"orient":"top","offset":-5,"values":[0.98,1,1.02,1.04,1.06,1.08,1.1,1.12,1.14,1.16,1.18,1.2,1.22,1.24,1.26,1.28,1.3,1.32,1.34,1.36,1.38,1.4,1.42,1.44,1.46,1.48,1.5,1.52,1.54,1.56],"labels":false,"tickSize":5,"title":"(a)","titleFont":"Liberation Sans","titleFontWeight":"bold","titleFontStyle":"normal","titleFontSize":22,"titleAngle":0,"titleAlign":"left","titleBaseline":"alphabetic","titleX":-61,"titleY":-36}},
"y":{"field":"r","type":"quantitative","scale":{"domain":[0,1],"nice":false,"zero":false},"axis":{"orient":"right","offset":-5,"values":[0,0.05,0.1,0.15,0.2,0.25,0.3,0.35,0.4,0.45,0.5,0.55,0.6,0.65,0.7,0.75,0.8,0.85,0.9,0.95,1],"labels":false,"tickSize":5,"title":null}},
"color":{"field":"s","type":"nominal","scale":{"domain":["r2","r1","N","O","P","W","X","D"],"range":["#e2244a","#4169b5","#e2244a","#f9b03c","#4169b5","#2ca84a","#2ca84a","#c1c3c7"]},"legend":null},
"shape":{"field":"s","type":"nominal","scale":{"domain":["r2","r1","N","O","P","W","X","D"],"range":["M-1.5,-0.22H1.5V0.22H-1.5Z","M-1.5,-0.22H1.5V0.22H-1.5Z","square","triangle-up","square","triangle-up","triangle-up","square"]},"legend":null}}},
{"data":{"name":"boxA"},"mark":{"type":"rect","filled":false,"stroke":"#222222","strokeWidth":4},"encoding":{"x2":{"field":"b2"},"y2":{"field":"r2"}}},
{"data":{"name":"conn"},"mark":{"type":"line","color":"#000000","strokeWidth":3,"clip":false},"encoding":{"order":{"field":"o","type":"quantitative"}}},
{"data":{"name":"rho2"},"mark":{"type":"line","color":"#e2244a","strokeWidth":4,"clip":true,"interpolate":"monotone"},"encoding":{}},
{"data":{"name":"rho1"},"mark":{"type":"line","color":"#4169b5","strokeWidth":4,"clip":true,"interpolate":"monotone"},"encoding":{}},
{"data":{"name":"rho1u"},"mark":{"type":"line","color":"#4169b5","strokeWidth":4,"clip":true,"interpolate":"monotone","strokeDash":[9,3]},"encoding":{}}
],
"resolve":{"axis":{"x":"independent","y":"independent"}}
},
{"width":330,"height":333,
"encoding":{
"x":{"field":"b","type":"quantitative","scale":{"domain":[0.99,1.309],"nice":false,"zero":false},"axis":null},
"y":{"field":"r","type":"quantitative","scale":{"domain":[0.147,0.7],"nice":false,"zero":false},"axis":null}},
"layer":[
{"data":{"name":"gridB"},"transform":[{"filter":"datum.s=='N'||datum.s=='P'||datum.s=='D'"}],
"mark":{"type":"point","filled":true,"size":156,"opacity":1},
"encoding":{
"x":{"field":"b","type":"quantitative","scale":{"domain":[0.99,1.309],"nice":false,"zero":false},"axis":{"orient":"bottom","offset":-5,"values":[1,1.02,1.04,1.06,1.08,1.1,1.12,1.14,1.16,1.18,1.2,1.22,1.24,1.26,1.28,1.3],"labelExpr":"abs(datum.value*10-round(datum.value*10))<0.001 ? format(datum.value,'.1f') : ''","tickSize":5,"labelPadding":4,"title":"B","titleX":279,"titleY":31,"titleAngle":0,"titleAlign":"center","titleBaseline":"middle"}},
"y":{"field":"r","type":"quantitative","scale":{"domain":[0.147,0.7],"nice":false,"zero":false},"axis":{"orient":"left","offset":-5,"values":[0.16,0.18,0.2,0.22,0.24,0.26,0.28,0.3,0.32,0.34,0.36,0.38,0.4,0.42,0.44,0.46,0.48,0.5,0.52,0.54,0.56,0.58,0.6,0.62,0.64,0.66,0.68,0.7],"labelExpr":"abs(datum.value*10-round(datum.value*10))<0.001 ? format(datum.value,'.1f') : ''","tickSize":5,"labelPadding":5,"title":"ρ̄","titleFont":"DejaVu Serif","titleX":-53,"titleY":34,"titleAngle":0,"titleAlign":"center","titleBaseline":"middle"}},
"color":{"field":"s","type":"nominal","scale":{"domain":["r2","r1","N","O","P","W","X","D"],"range":["#e2244a","#4169b5","#e2244a","#f9b03c","#4169b5","#2ca84a","#2ca84a","#c1c3c7"]},"legend":{"title":null,"orient":"none","legendX":338,"legendY":15,"direction":"vertical","padding":0,"labelFont":"Liberation Sans","labelFontSize":25,"labelColor":"#000","labelLimit":400,"symbolSize":135,"rowPadding":11.5,"labelOffset":19,"labelExpr":"datum.value=='r2' ? 'ρ₂ᶜ' : datum.value=='r1' ? 'ρ₁ᶜ' : datum.value=='N' ? 'hom. nematic' : datum.value=='O' ? 'band patterns' : datum.value=='P' ? 'hom. polar' : datum.value=='W' ? 'wave patterns' : datum.value=='X' ? 'bistability' : 'disorder'"}},
"shape":{"field":"s","type":"nominal","scale":{"domain":["r2","r1","N","O","P","W","X","D"],"range":["M-1.5,-0.22H1.5V0.22H-1.5Z","M-1.5,-0.22H1.5V0.22H-1.5Z","square","triangle-up","square","triangle-up","triangle-up","square"]},"legend":{"title":null,"orient":"none","legendX":338,"legendY":15,"direction":"vertical","padding":0,"labelFont":"Liberation Sans","labelFontSize":25,"labelColor":"#000","labelLimit":400,"symbolSize":135,"rowPadding":11.5,"labelOffset":19,"labelExpr":"datum.value=='r2' ? 'ρ₂ᶜ' : datum.value=='r1' ? 'ρ₁ᶜ' : datum.value=='N' ? 'hom. nematic' : datum.value=='O' ? 'band patterns' : datum.value=='P' ? 'hom. polar' : datum.value=='W' ? 'wave patterns' : datum.value=='X' ? 'bistability' : 'disorder'"}}}},
{"data":{"name":"gridB"},"transform":[{"filter":"datum.s=='X'"}],"mark":{"type":"point","filled":true,"size":156,"shape":"square","color":"#c1c3c7","opacity":1},"encoding":{}},
{"data":{"name":"gridB"},"transform":[{"filter":"datum.s=='O'||datum.s=='W'||datum.s=='X'"}],
"mark":{"type":"point","filled":true,"size":140,"opacity":1},
"encoding":{
"x":{"field":"b","type":"quantitative","scale":{"domain":[0.99,1.309],"nice":false,"zero":false},"axis":{"orient":"top","offset":-5,"values":[1,1.02,1.04,1.06,1.08,1.1,1.12,1.14,1.16,1.18,1.2,1.22,1.24,1.26,1.28,1.3],"labels":false,"tickSize":5,"title":null}},
"y":{"field":"r","type":"quantitative","scale":{"domain":[0.147,0.7],"nice":false,"zero":false},"axis":{"orient":"right","offset":-5,"values":[0.16,0.18,0.2,0.22,0.24,0.26,0.28,0.3,0.32,0.34,0.36,0.38,0.4,0.42,0.44,0.46,0.48,0.5,0.52,0.54,0.56,0.58,0.6,0.62,0.64,0.66,0.68,0.7],"labels":false,"tickSize":5,"title":null}},
"color":{"field":"s","type":"nominal","scale":{"domain":["r2","r1","N","O","P","W","X","D"],"range":["#e2244a","#4169b5","#e2244a","#f9b03c","#4169b5","#2ca84a","#2ca84a","#c1c3c7"]},"legend":{"title":null,"orient":"none","legendX":338,"legendY":15,"direction":"vertical","padding":0,"labelFont":"Liberation Sans","labelFontSize":25,"labelColor":"#000","labelLimit":400,"symbolSize":135,"rowPadding":11.5,"labelOffset":19,"labelExpr":"datum.value=='r2' ? 'ρ₂ᶜ' : datum.value=='r1' ? 'ρ₁ᶜ' : datum.value=='N' ? 'hom. nematic' : datum.value=='O' ? 'band patterns' : datum.value=='P' ? 'hom. polar' : datum.value=='W' ? 'wave patterns' : datum.value=='X' ? 'bistability' : 'disorder'"}},
"shape":{"field":"s","type":"nominal","scale":{"domain":["r2","r1","N","O","P","W","X","D"],"range":["M-1.5,-0.22H1.5V0.22H-1.5Z","M-1.5,-0.22H1.5V0.22H-1.5Z","square","triangle-up","square","triangle-up","triangle-up","square"]},"legend":{"title":null,"orient":"none","legendX":338,"legendY":15,"direction":"vertical","padding":0,"labelFont":"Liberation Sans","labelFontSize":25,"labelColor":"#000","labelLimit":400,"symbolSize":135,"rowPadding":11.5,"labelOffset":19,"labelExpr":"datum.value=='r2' ? 'ρ₂ᶜ' : datum.value=='r1' ? 'ρ₁ᶜ' : datum.value=='N' ? 'hom. nematic' : datum.value=='O' ? 'band patterns' : datum.value=='P' ? 'hom. polar' : datum.value=='W' ? 'wave patterns' : datum.value=='X' ? 'bistability' : 'disorder'"}}}},
{"data":{"name":"rho2"},"mark":{"type":"line","color":"#e2244a","strokeWidth":4,"clip":true,"interpolate":"monotone"},"encoding":{}},
{"data":{"name":"rho1"},"mark":{"type":"line","color":"#4169b5","strokeWidth":4,"clip":true,"interpolate":"monotone"},"encoding":{}},
{"data":{"name":"rho1u"},"mark":{"type":"line","color":"#4169b5","strokeWidth":4.5,"clip":true,"interpolate":"monotone","strokeDash":[12,4]},"encoding":{}}
],
"resolve":{"axis":{"x":"independent","y":"independent"}}
}
],"spacing":97,"bounds":"flush","resolve":{"scale":{"color":"independent","shape":"independent"},"legend":{"color":"independent","shape":"independent"}}},
{"hconcat":[
{"width":340,"height":336,
"title":{"text":"B = 1.15","font":"Liberation Serif","fontSize":31,"anchor":"middle","frame":"group","offset":-44},
"encoding":{
"x":{"field":"x","type":"quantitative","scale":{"domain":[-0.033,0.7127],"nice":false,"zero":false},"axis":null},
"y":{"field":"y","type":"quantitative","scale":{"domain":[-0.0158,0.8284],"nice":false,"zero":false},"axis":null}},
"layer":[
{"data":{"name":"curvesB"},"transform":[{"filter":"datum.g=='bR'"}],"mark":{"type":"line","color":"#e2244a","opacity":0.25,"strokeWidth":15,"clip":true,"interpolate":"monotone"},
"encoding":{
"x":{"field":"x","type":"quantitative","scale":{"domain":[-0.033,0.7127],"nice":false,"zero":false},"axis":{"orient":"bottom","offset":-5,"values":[0,0.05,0.1,0.15,0.2,0.25,0.3,0.35,0.4,0.45,0.5,0.55,0.6,0.65,0.7],"labelExpr":"abs(datum.value*5-round(datum.value*5))<0.001 ? format(datum.value,'.1f') : ''","tickSize":5,"labelPadding":4,"title":"ρ̄","titleFont":"DejaVu Serif","titleX":321,"titleY":25,"titleAngle":0,"titleAlign":"center","titleBaseline":"middle"}},
"y":{"field":"y","type":"quantitative","scale":{"domain":[-0.0158,0.8284],"nice":false,"zero":false},"axis":{"orient":"left","offset":-5,"values":[0,0.05,0.1,0.15,0.2,0.25,0.3,0.35,0.4,0.45,0.5,0.55,0.6,0.65,0.7,0.75,0.8],"labelExpr":"abs(datum.value*5-round(datum.value*5))<0.001 ? format(datum.value,'.1f') : ''","tickSize":5,"labelPadding":5,"title":"×ρ̄","titleFont":"DejaVu Serif","titleX":-33,"titleY":54,"titleAngle":0,"titleAlign":"center","titleBaseline":"middle"}}}},
{"data":{"name":"curvesB"},"transform":[{"filter":"datum.g=='bB'"}],"mark":{"type":"line","color":"#4169b5","opacity":0.25,"strokeWidth":15,"clip":true,"interpolate":"monotone"},
"encoding":{
"x":{"field":"x","type":"quantitative","scale":{"domain":[-0.033,0.7127],"nice":false,"zero":false},"axis":{"orient":"top","offset":-5,"values":[0,0.05,0.1,0.15,0.2,0.25,0.3,0.35,0.4,0.45,0.5,0.55,0.6,0.65,0.7],"labels":false,"tickSize":5,"title":"(b)","titleFont":"Liberation Sans","titleFontWeight":"bold","titleFontStyle":"normal","titleFontSize":22,"titleAngle":0,"titleAlign":"left","titleBaseline":"alphabetic","titleX":-61,"titleY":-30}},
"y":{"field":"y","type":"quantitative","scale":{"domain":[-0.0158,0.8284],"nice":false,"zero":false},"axis":{"orient":"right","offset":-5,"values":[0,0.05,0.1,0.15,0.2,0.25,0.3,0.35,0.4,0.45,0.5,0.55,0.6,0.65,0.7,0.75,0.8],"labels":false,"tickSize":5,"title":null}}}},
{"data":{"name":"boxesB"},"mark":{"type":"rule","strokeWidth":46,"strokeCap":"round"},"encoding":{"x2":{"field":"x2"},"color":{"condition":{"test":"datum.g=='R'","value":"#f6c9d2"},"value":"#d2dbed"}}},
{"data":{"name":"curvesB"},"transform":[{"filter":"datum.g=='fR1'||datum.g=='fR2'"}],"mark":{"type":"line","color":"#e2244a","strokeWidth":3.5,"clip":true},"encoding":{"detail":{"field":"g","type":"nominal"}}},
{"data":{"name":"curvesB"},"transform":[{"filter":"datum.g=='fB'"}],"mark":{"type":"line","color":"#4169b5","strokeWidth":3.5,"clip":true},"encoding":{}},
{"data":{"name":"callB"},"mark":{"type":"rule","color":"#000000","strokeWidth":1.3},"encoding":{"x2":{"field":"x2"},"y2":{"field":"y2"}}},
{"data":{"name":"labB"},"mark":{"type":"text","font":"Liberation Serif","fontSize":30,"fontStyle":"italic","align":"left","baseline":"alphabetic","color":"#000000"},"encoding":{"text":{"field":"m","type":"nominal"}}},
{"data":{"name":"labB"},"mark":{"type":"text","font":"Liberation Serif","fontSize":19,"align":"left","baseline":"alphabetic","dx":40,"dy":-14,"color":"#000000"},"encoding":{"text":{"field":"u","type":"nominal"}}}
],
"resolve":{"axis":{"x":"independent","y":"independent"}}
},
{"width":333,"height":331,
"title":{"text":"hom. solutions (RS)","anchor":"middle","frame":"group","offset":-36},
"encoding":{
"x":{"field":"b","type":"quantitative","scale":{"domain":[0.9888,1.3093],"nice":false,"zero":false},"axis":null},
"y":{"field":"r","type":"quantitative","scale":{"domain":[0.1507,0.7],"nice":false,"zero":false},"axis":null}},
"layer":[
{"data":{"name":"colsC"},"mark":{"type":"rule","strokeWidth":11,"strokeDash":[5,1],"strokeCap":"butt"},
"encoding":{
"x":{"field":"b","type":"quantitative","scale":{"domain":[0.9888,1.3093],"nice":false,"zero":false},"axis":{"orient":"bottom","offset":-5,"values":[1,1.02,1.04,1.06,1.08,1.1,1.12,1.14,1.16,1.18,1.2,1.22,1.24,1.26,1.28,1.3],"labelExpr":"abs(datum.value*10-round(datum.value*10))<0.001 ? format(datum.value,'.1f') : ''","tickSize":5,"labelPadding":4,"title":"B","titleX":279,"titleY":29,"titleAngle":0,"titleAlign":"center","titleBaseline":"middle"}},
"y":{"field":"r","type":"quantitative","scale":{"domain":[0.1507,0.7],"nice":false,"zero":false},"axis":{"orient":"left","offset":-5,"values":[0.16,0.18,0.2,0.22,0.24,0.26,0.28,0.3,0.32,0.34,0.36,0.38,0.4,0.42,0.44,0.46,0.48,0.5,0.52,0.54,0.56,0.58,0.6,0.62,0.64,0.66,0.68,0.7],"labelExpr":"abs(datum.value*10-round(datum.value*10))<0.001 ? format(datum.value,'.1f') : ''","tickSize":5,"labelPadding":5,"title":"ρ̄","titleFont":"DejaVu Serif","titleX":-53,"titleY":34,"titleAngle":0,"titleAlign":"center","titleBaseline":"middle"}},
"y2":{"field":"r2"},
"color":{"field":"s","type":"nominal","scale":{"domain":["N","P","G"],"range":["#e2244a","#4169b5","#808080"]},"legend":null}}},
{"data":{"name":"rho2"},"mark":{"type":"line","color":"#e2244a","strokeWidth":4,"clip":true,"interpolate":"monotone"},
"encoding":{
"x":{"field":"b","type":"quantitative","scale":{"domain":[0.9888,1.3093],"nice":false,"zero":false},"axis":{"orient":"top","offset":-5,"values":[1,1.02,1.04,1.06,1.08,1.1,1.12,1.14,1.16,1.18,1.2,1.22,1.24,1.26,1.28,1.3],"labels":false,"tickSize":5,"title":"(c)","titleFont":"Liberation Sans","titleFontWeight":"bold","titleFontStyle":"normal","titleFontSize":22,"titleAngle":0,"titleAlign":"left","titleBaseline":"alphabetic","titleX":-48,"titleY":-30}},
"y":{"field":"r","type":"quantitative","scale":{"domain":[0.1507,0.7],"nice":false,"zero":false},"axis":{"orient":"right","offset":-5,"values":[0.16,0.18,0.2,0.22,0.24,0.26,0.28,0.3,0.32,0.34,0.36,0.38,0.4,0.42,0.44,0.46,0.48,0.5,0.52,0.54,0.56,0.58,0.6,0.62,0.64,0.66,0.68,0.7],"labels":false,"tickSize":5,"title":null}}}},
{"data":{"name":"rho1"},"mark":{"type":"line","color":"#4169b5","strokeWidth":4,"clip":true,"interpolate":"monotone"},"encoding":{}},
{"data":{"name":"rho1u"},"mark":{"type":"line","color":"#4169b5","strokeWidth":4.5,"clip":true,"interpolate":"monotone","strokeDash":[12,4]},"encoding":{}}
],
"resolve":{"axis":{"x":"independent","y":"independent"}}
}
],"spacing":97,"bounds":"flush","resolve":{"scale":{"color":"independent","shape":"independent"},"legend":{"color":"independent","shape":"independent"}}}
],
"config":{
"view":{"stroke":"#000000","strokeWidth":3},
"axis":{"domain":false,"grid":false,"labelFont":"Liberation Sans","labelFontSize":25,"labelColor":"#000000","tickColor":"#000000","tickWidth":1.5,"titleFont":"Liberation Serif","titleFontSize":26,"titleFontStyle":"italic","titleFontWeight":"normal","titleColor":"#000000","labelOverlap":false,"labelFlush":false,"zindex":1},
"title":{"font":"Liberation Sans","fontSize":31,"fontWeight":"normal","color":"#000000"}
}
}
